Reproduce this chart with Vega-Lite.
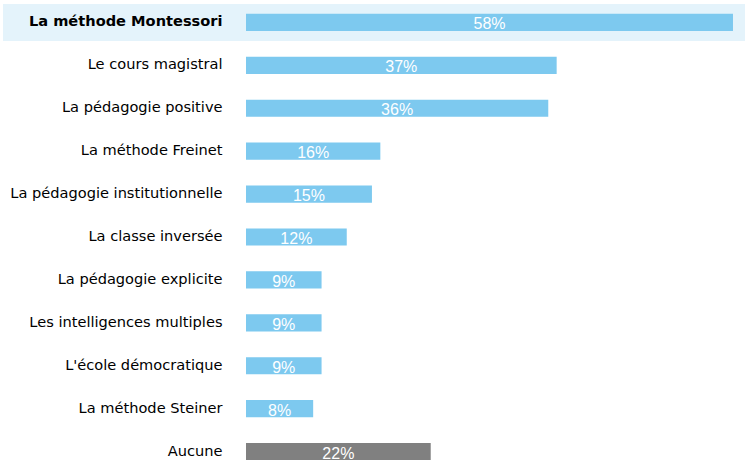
{
  "$schema": "https://vega.github.io/schema/vega-lite/v6.json",
  "autosize": "none",
  "width": 500,
  "height": 472,
  "padding": {"left": 246, "top": 1, "right": 0, "bottom": 0},
  "background": "white",
  "config": {"view": {"stroke": null}},
  "data": {
    "values": [
      {"label": "La méthode Montessori", "value": 0.58, "kind": "methode", "highlight": true},
      {"label": "Le cours magistral", "value": 0.37, "kind": "methode", "highlight": false},
      {"label": "La pédagogie positive", "value": 0.36, "kind": "methode", "highlight": false},
      {"label": "La méthode Freinet", "value": 0.16, "kind": "methode", "highlight": false},
      {"label": "La pédagogie institutionnelle", "value": 0.15, "kind": "methode", "highlight": false},
      {"label": "La classe inversée", "value": 0.12, "kind": "methode", "highlight": false},
      {"label": "La pédagogie explicite", "value": 0.09, "kind": "methode", "highlight": false},
      {"label": "Les intelligences multiples", "value": 0.09, "kind": "methode", "highlight": false},
      {"label": "L'école démocratique", "value": 0.09, "kind": "methode", "highlight": false},
      {"label": "La méthode Steiner", "value": 0.08, "kind": "methode", "highlight": false},
      {"label": "Aucune", "value": 0.22, "kind": "aucune", "highlight": false}
    ]
  },
  "encoding": {
    "y": {
      "field": "label",
      "type": "nominal",
      "sort": null,
      "scale": {"paddingInner": 0, "paddingOuter": 0},
      "axis": {
        "title": null,
        "ticks": false,
        "domain": false,
        "labelPadding": 24,
        "labelLimit": 400,
        "labelFont": "DejaVu Sans",
        "labelFontSize": 14.6,
        "labelColor": "#000000",
        "labelFontWeight": {"condition": {"test": "datum.value === 'La méthode Montessori'", "value": "bold"}, "value": "normal"},
        "zindex": 1
      }
    }
  },
  "layer": [
    {
      "layer": [
        {
          "transform": [{"filter": "datum.highlight"}],
          "mark": {"type": "bar", "color": "#e4f3fb", "height": {"band": 0.86}, "clip": false},
          "encoding": {
            "x": {"datum": -0.2894, "type": "quantitative", "scale": {"domain": [0, 0.5955], "nice": false, "zero": false}, "axis": null},
            "x2": {"datum": 0.5943}
          }
        },
        {
          "mark": {"type": "bar", "height": {"band": 0.4}},
          "encoding": {
            "x": {"field": "value", "type": "quantitative", "axis": null},
            "color": {
              "field": "kind",
              "type": "nominal",
              "scale": {"domain": ["methode", "aucune"], "range": ["#7dc9ef", "#808080"]},
              "legend": null
            }
          }
        }
      ]
    },
    {
      "mark": {"type": "text", "align": "center", "baseline": "alphabetic", "dy": 7, "font": "Liberation Sans", "fontSize": 16, "color": "#ffffff"},
      "encoding": {
        "x": {"field": "value", "type": "quantitative", "scale": {"domain": [0, 1.191], "nice": false, "zero": false}, "axis": null},
        "text": {"field": "value", "type": "quantitative", "format": ".0%"}
      }
    }
  ],
  "resolve": {"scale": {"x": "independent"}}
}
